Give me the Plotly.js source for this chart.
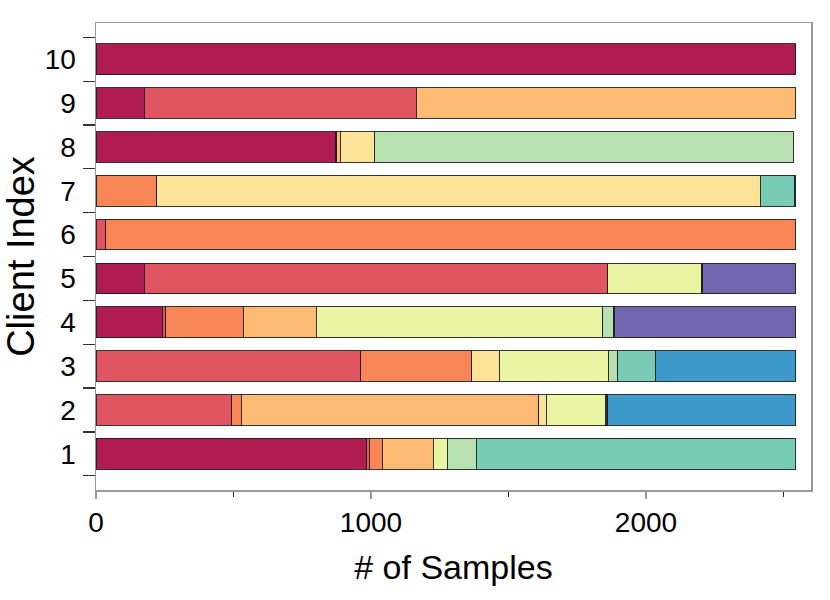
<!DOCTYPE html>
<html>
<head>
<meta charset="utf-8">
<script src="https://cdn.plot.ly/plotly-3.0.1.min.js"></script>
<style>html,body{margin:0;padding:0;background:#fff;}#chart{width:830px;height:600px;}</style>
</head>
<body>
<div id="chart"></div>
<script>
// Client indices (y categories)
const clients = [1, 2, 3, 4, 5, 6, 7, 8, 9, 10];
// Samples per class for each client (index = client 1..10); null = none
const class0 = [985, null, null, 242, 176, null, null, 872, 176, 2545];
const class1 = [8, 494, 963, 11, 1684, 35, null, 3, 989, null];
const class2 = [48, 35, 404, 283, null, 2510, 221, null, null, null];
const class3 = [186, 1081, null, 264, null, null, null, 14, 1380, null];
const class4 = [null, 27, 99, null, null, null, 2194, 125, null, null];
const class5 = [51, 215, 396, 1042, 343, null, null, null, null, null];
const class6 = [105, 3, 36, 40, null, null, null, 1524, null, null];
const class7 = [1162, 5, 137, null, null, null, 124, null, null, null];
const class8 = [null, 685, 510, 3, 4, null, 6, null, null, null];
const class9 = [null, null, null, 660, 338, null, null, null, null, null];
const classNames = ['0','1','2','3','4','5','6','7','8','9'];
const colors = ['#B01C4F','#E05560','#F78555','#FDBA72','#FDE398','#E9F5A3','#B8E1B2','#78CBB4','#3D99C9','#7166B0'];
const xTickVals = [0, 1000, 2000];
const xTickText = ['0', '1000', '2000'];

const series = [class0, class1, class2, class3, class4, class5, class6, class7, class8, class9];
const traces = series.map((vals, i) => ({
  type: 'bar',
  orientation: 'h',
  name: classNames[i],
  y: clients,
  x: vals,
  width: 0.7,
  marker: {color: colors[i], line: {color: 'rgba(30,30,30,0.9)', width: 1}},
  showlegend: false
}));

const font = "'Liberation Sans', Arial, Helvetica, sans-serif";
const layout = {
  width: 830, height: 600,
  margin: {l: 96, r: 19, t: 23, b: 110},
  paper_bgcolor: '#fff', plot_bgcolor: '#fff',
  barmode: 'stack',
  font: {family: font, color: '#000', size: 28},
  xaxis: {
    range: [0, 2600],
    tickvals: xTickVals,
    ticktext: xTickText,
    ticks: 'outside', ticklen: 7, tickwidth: 2, tickcolor: '#999',
    minor: {tickvals: [500, 1500, 2500], ticks: 'outside', ticklen: 5, tickwidth: 1, tickcolor: '#222'},
    showgrid: false, zeroline: false,
    showline: true, linecolor: '#999', linewidth: 1.5, mirror: true,
    tickfont: {family: font, size: 28, color: '#000'},
    title: {text: '# of Samples', font: {family: font, size: 34, color: '#000'}, standoff: 18}
  },
  yaxis: {
    range: [0.175, 10.825],
    tickvals: clients,
    ticktext: clients.map(String),
    ticks: '', ticklabelstandoff: 13,
    minor: {tickvals: [0.5,1.5,2.5,3.5,4.5,5.5,6.5,7.5,8.5,9.5,10.5], ticks: 'outside', ticklen: 12, tickwidth: 1.2, tickcolor: '#333'},
    showgrid: false, zeroline: false,
    showline: true, linecolor: '#999', linewidth: 1.5, mirror: true,
    tickfont: {family: font, size: 28, color: '#000'},
    title: {text: 'Client Index', font: {family: font, size: 38, color: '#000'}, standoff: 2}
  }
};
Plotly.newPlot('chart', traces, layout, {displayModeBar: false, staticPlot: true});
</script>
</body>
</html>
